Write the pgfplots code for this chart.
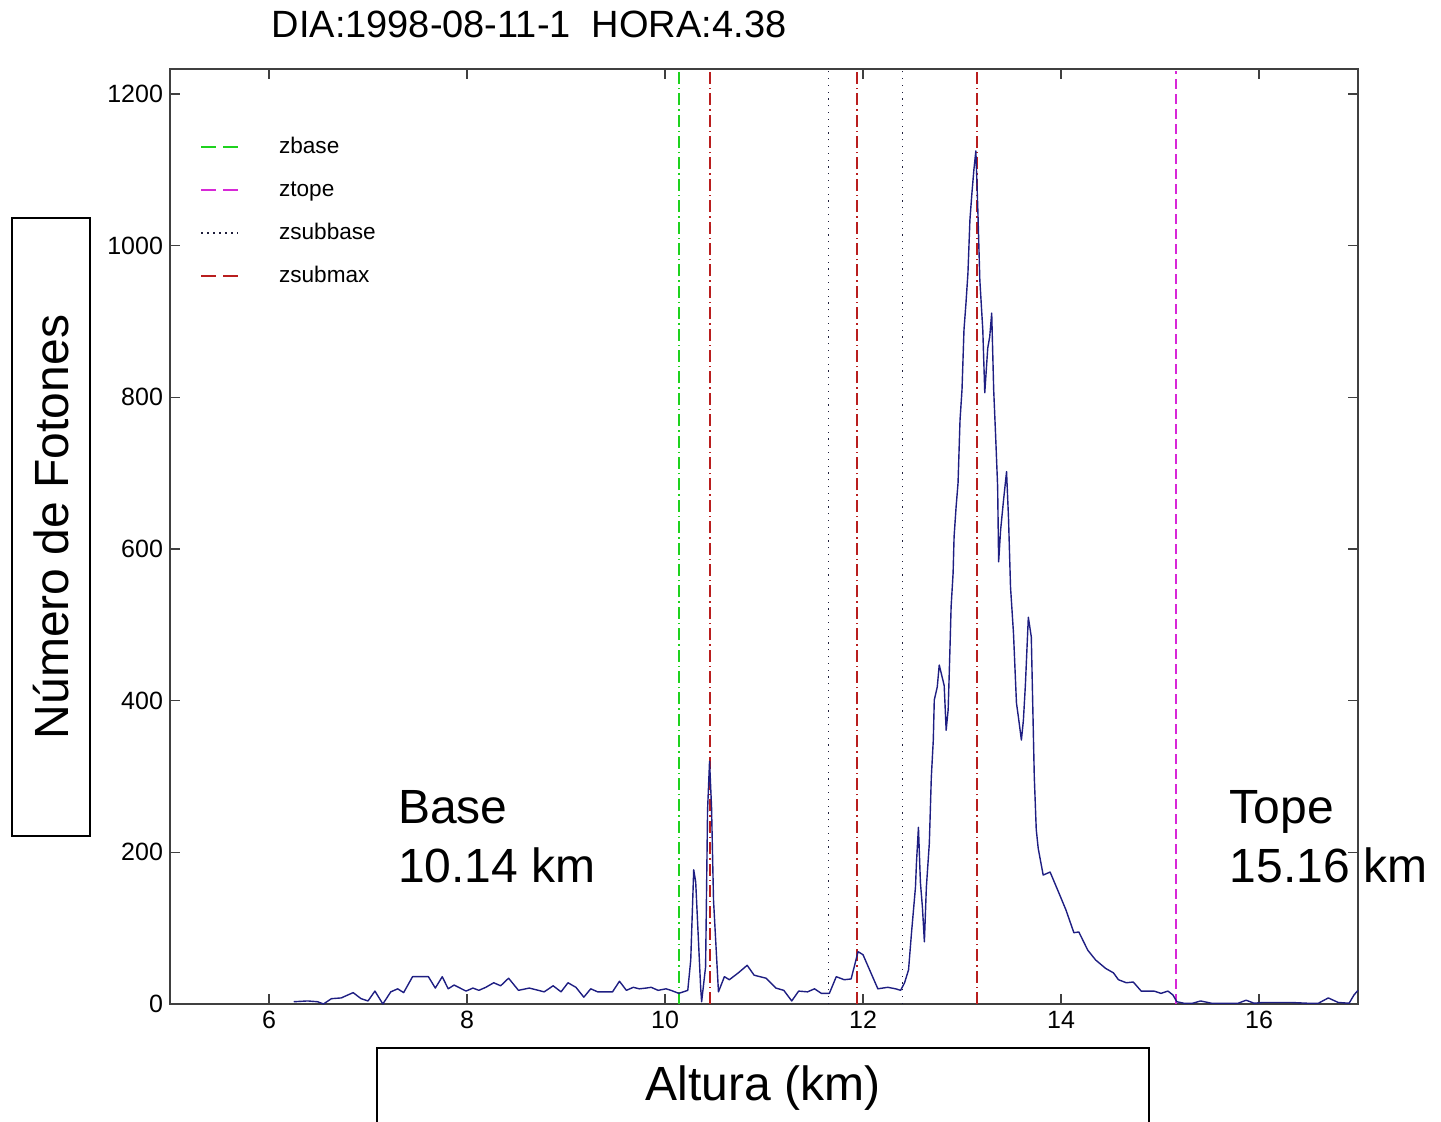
\documentclass[border=0pt]{standalone}
\usepackage{pgfplots}
\pgfplotsset{compat=1.18}
\usepackage{fontspec}
\setmainfont{Liberation Sans}
\definecolor{zgreen}{RGB}{30,210,30}
\definecolor{zmag}{RGB}{215,40,215}
\definecolor{zred}{RGB}{185,30,30}
\definecolor{zdot}{RGB}{30,30,60}
\definecolor{zdata}{RGB}{30,30,130}
\begin{document}
\begin{tikzpicture}
\begin{axis}[
  at={(85pt,59pt)}, anchor=south west,
  scale only axis, width=594pt, height=467.5pt,
  xmin=5, xmax=17, ymin=0, ymax=1233,
  xtick={6,8,...,16}, ytick={0,200,...,1200},
  tick align=inside, major tick length=5pt,
  axis line style={line width=0.6pt, black!75},
  every tick/.style={black!75, line width=0.6pt},
  tick label style={font=\fontsize{12.5}{14}\selectfont},
  /pgf/number format/assume math mode=true,
  /pgf/number format/1000 sep={},
  scaled ticks=false,
  clip=false,
  legend cell align=left,
  legend image code/.code={\draw[#1] (0pt,0pt) -- (18.5pt,0pt); \path (38.5pt,0pt);},
  legend style={draw=none, fill=none, inner sep=0pt, outer sep=0pt,
    at={(rel axis cs:0.0253,0.927)}, anchor=north west,
    font=\fontsize{11.3}{13}\selectfont,
    nodes={text height=8pt, text depth=2pt, inner sep=0pt},
    row sep=11.5pt},
]
\addlegendimage{color=zgreen, line width=1pt, dash pattern=on 7.5pt off 3.5pt}
\addlegendentry{zbase}
\addlegendimage{color=zmag, line width=1pt, dash pattern=on 7.5pt off 3.5pt}
\addlegendentry{ztope}
\addlegendimage{color=zdot, line width=1pt, dash pattern=on 0.8pt off 2.2pt}
\addlegendentry{zsubbase}
\addlegendimage{color=zred, line width=1pt, dash pattern=on 7.5pt off 3.5pt}
\addlegendentry{zsubmax}

% vertical markers
\addplot[forget plot, color=zgreen, line width=0.8pt, dash pattern=on 6pt off 2pt on 0.7pt off 2pt] coordinates {(10.14,0) (10.14,1230)};
\addplot[forget plot, color=zmag, line width=0.8pt, dash pattern=on 5pt off 2.5pt] coordinates {(15.16,0) (15.16,1230)};
\addplot[forget plot, color=zdot, line width=0.6pt, dash pattern=on 0.6pt off 2.8pt] coordinates {(11.65,0) (11.65,1230)};
\addplot[forget plot, color=zdot, line width=0.6pt, dash pattern=on 0.6pt off 2.8pt] coordinates {(12.40,0) (12.40,1230)};
\addplot[forget plot, color=zred, line width=0.8pt, dash pattern=on 6pt off 2pt on 0.7pt off 2pt] coordinates {(10.455,0) (10.455,1230)};
\addplot[forget plot, color=zred, line width=0.8pt, dash pattern=on 6pt off 2pt on 0.7pt off 2pt] coordinates {(11.94,0) (11.94,1230)};
\addplot[forget plot, color=zred, line width=0.8pt, dash pattern=on 6pt off 2pt on 0.7pt off 2pt] coordinates {(13.15,0) (13.15,1230)};

% signal
\addplot[forget plot, color=zdata, line width=0.7pt, line join=round] coordinates {
(6.25,3)(6.39,4)(6.49,3)(6.55,0)(6.63,7)(6.73,8)(6.85,15)(6.93,7)(7.00,4)(7.07,17)(7.15,0)(7.23,16)(7.30,20)(7.36,15)(7.45,36)(7.52,36)(7.61,36)(7.68,21)(7.75,36)(7.81,20)(7.87,25)(7.93,21)(7.99,17)(8.06,21)(8.12,18)(8.19,22)(8.27,28)(8.34,24)(8.42,34)(8.52,18)(8.63,21)(8.72,18)(8.78,16)(8.87,24)(8.95,16)(9.02,28)(9.10,22)(9.18,9)(9.25,20)(9.32,16)(9.38,16)(9.47,16)(9.54,30)(9.61,18)(9.68,22)(9.74,20)(9.81,21)(9.86,22)(9.93,18)(10.01,20)(10.06,18)(10.14,14)(10.23,18)(10.26,58)(10.29,177)(10.31,161)(10.36,22)(10.37,3)(10.41,49)(10.43,256)(10.45,320)(10.47,260)(10.49,137)(10.54,16)(10.60,36)(10.65,32)(10.74,41)(10.83,51)(10.90,38)(11.02,34)(11.12,21)(11.20,18)(11.28,4)(11.35,17)(11.44,16)(11.51,20)(11.58,14)(11.66,14)(11.73,36)(11.81,32)(11.88,33)(11.95,69)(12.00,65)(12.06,47)(12.15,20)(12.25,22)(12.33,20)(12.38,18)(12.42,28)(12.46,45)(12.49,94)(12.53,154)(12.54,186)(12.56,233)(12.58,160)(12.60,128)(12.62,82)(12.64,154)(12.67,212)(12.69,299)(12.71,348)(12.72,401)(12.75,418)(12.77,447)(12.82,420)(12.84,361)(12.86,388)(12.87,431)(12.88,476)(12.89,524)(12.91,568)(12.92,616)(12.94,655)(12.96,687)(12.98,770)(13.00,810)(13.02,889)(13.04,924)(13.06,964)(13.08,1034)(13.10,1069)(13.12,1100)(13.14,1125)(13.16,1047)(13.18,955)(13.21,889)(13.23,806)(13.26,865)(13.28,880)(13.30,911)(13.32,810)(13.34,748)(13.36,682)(13.37,583)(13.39,625)(13.42,665)(13.45,702)(13.47,640)(13.49,550)(13.52,489)(13.55,397)(13.57,378)(13.60,348)(13.62,374)(13.64,420)(13.67,510)(13.70,484)(13.73,300)(13.75,230)(13.77,205)(13.82,170)(13.89,174)(13.98,146)(14.05,124)(14.13,94)(14.18,95)(14.27,71)(14.35,58)(14.45,47)(14.53,41)(14.58,32)(14.66,28)(14.73,29)(14.81,17)(14.94,17)(15.01,14)(15.08,17)(15.13,12)(15.17,3)(15.24,1)(15.33,1)(15.41,4)(15.52,1)(15.65,1)(15.79,1)(15.87,5)(15.95,1)(16.04,2)(16.19,2)(16.32,2)(16.49,1)(16.60,1)(16.70,8)(16.80,2)(16.91,1)(16.96,12)(17.00,18)
};

\node[anchor=north west, inner sep=0pt, align=left, font=\fontsize{24}{29.5}\selectfont] at (axis cs:7.30,282) {Base\\10.14 km};
\node[anchor=north west, inner sep=0pt, align=left, font=\fontsize{24}{29.5}\selectfont] at (axis cs:15.70,282) {Tope\\15.16 km};
\end{axis}
% title
\node[anchor=base, inner sep=0pt, font=\fontsize{19}{22}\selectfont] at (264.5pt,542pt) {DIA:1998-08-11-1\ \ HORA:4.38};
% y label box
\draw[line width=0.8pt] (6pt,143pt) rectangle (45pt,452pt);
\node[rotate=90, inner sep=0pt, font=\fontsize{24}{28}\selectfont] at (25.5pt,297.5pt) {Número de Fotones};
% x label box
\draw[line width=0.8pt] (188.5pt,-10pt) rectangle (574.5pt,37pt);
\node[inner sep=0pt, font=\fontsize{24}{28}\selectfont] at (381.5pt,17pt) {Altura (km)};
\pgfresetboundingbox
\path (0pt,0pt) rectangle (720.5pt,561pt);
\end{tikzpicture}
\end{document}
